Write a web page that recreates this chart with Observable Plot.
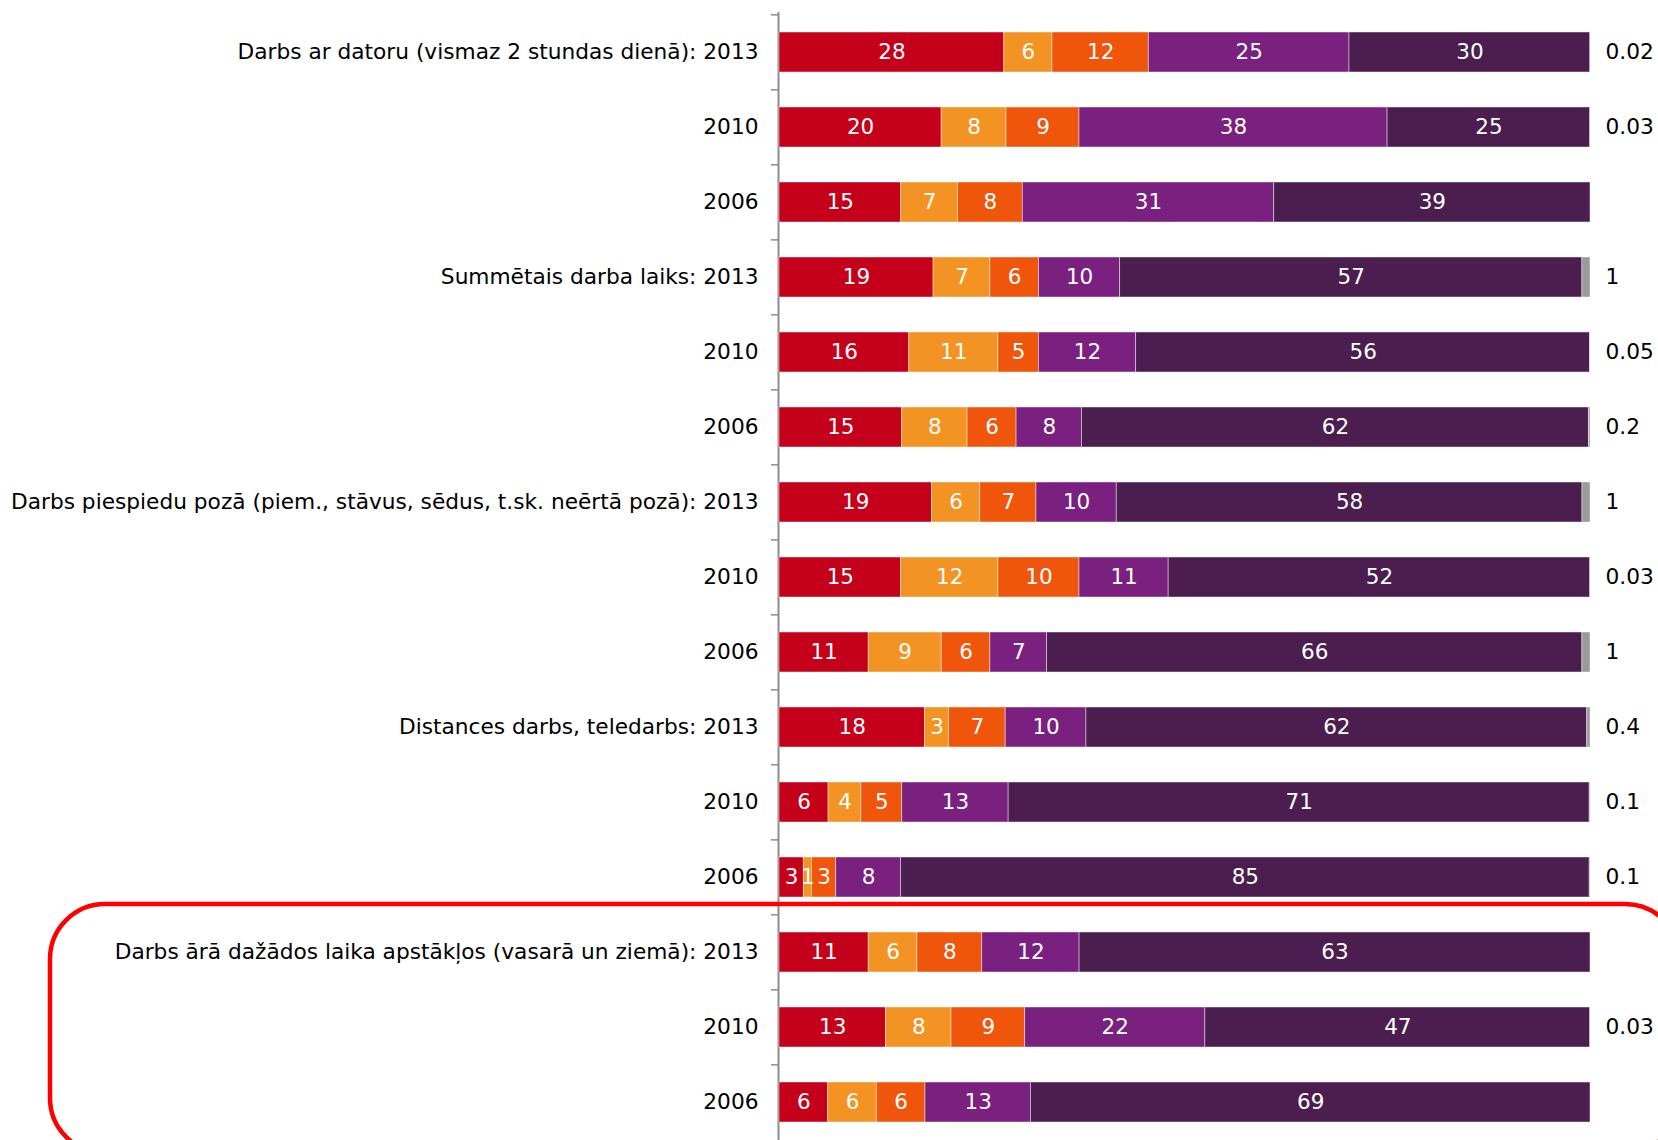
<!DOCTYPE html>
<html>
<head>
<meta charset="utf-8">
<script src="https://cdn.jsdelivr.net/npm/d3@7"></script>
<script src="https://cdn.jsdelivr.net/npm/@observablehq/plot@0.6"></script>
<style>
  body { margin: 0; background: #fff; }
  #chart svg { display: block; }
</style>
</head>
<body>
<div id="chart"></div>
<script>
// ---- data ----
const groups = [
  "Darbs ar datoru (vismaz 2 stundas dienā)",
  "Summētais darba laiks",
  "Darbs piespiedu pozā (piem., stāvus, sēdus, t.sk. neērtā pozā)",
  "Distances darbs, teledarbs",
  "Darbs ārā dažādos laika apstākļos (vasarā un ziemā)"
];
const years = ["2013", "2010", "2006"];
const categories = ["c1", "c2", "c3", "c4", "c5", "na"];
const colors = ["#c5001a", "#f39323", "#ef560b", "#7a2180", "#4b1e4f", "#9a9a9a"];

// values per row (top to bottom: group × year)
const seriesRed         = [28, 20, 15, 19, 16, 15, 19, 15, 11, 18, 6, 3, 11, 13, 6];
const seriesLightOrange = [6, 8, 7, 7, 11, 8, 6, 12, 9, 3, 4, 1, 6, 8, 6];
const seriesDarkOrange  = [12, 9, 8, 6, 5, 6, 7, 10, 6, 7, 5, 3, 8, 9, 6];
const seriesPurple      = [25, 38, 31, 10, 12, 8, 10, 11, 7, 10, 13, 8, 12, 22, 13];
const seriesDarkPurple  = [30, 25, 39, 57, 56, 62, 58, 52, 66, 62, 71, 85, 63, 47, 69];
const seriesNoAnswer    = [0.02, 0.03, null, 1, 0.05, 0.2, 1, 0.03, 1, 0.4, 0.1, 0.1, null, 0.03, null];

// ---- build table ----
const rows = groups.flatMap(g => years.map(y => g + "|" + y));
const allSeries = [seriesRed, seriesLightOrange, seriesDarkOrange, seriesPurple, seriesDarkPurple, seriesNoAnswer];
const data = rows.flatMap((r, i) =>
  allSeries.map((s, j) => ({row: r, cat: categories[j], value: s[i]})).filter(d => d.value != null)
);
const naData = data.filter(d => d.cat === "na");

const rowLabel = key => {
  const [g, y] = key.split("|");
  return y === years[0] ? `${g}: ${y}` : y;
};

// ---- layout ----
const W = 1658, H = 1140, mL = 779, mR = 68, mT = 12, mB = 0;
const step = 75.3;
const tickLen = 7 / (W - mL - mR);
const axisColor = "#8c8c8c";

const chart = Plot.plot({
  width: W,
  height: H,
  marginLeft: mL,
  marginRight: mR,
  marginTop: mT,
  marginBottom: mB,
  style: {fontFamily: "'DejaVu Sans', Verdana, sans-serif", fontSize: "21px", background: "white", color: "#000"},
  x: {domain: [0, 1], axis: null},
  y: {domain: rows, range: [mT, mT + step * rows.length], paddingInner: 0.47, paddingOuter: 0.235, label: null},
  color: {domain: categories, range: colors},
  marks: [
    Plot.ruleX([0], {stroke: axisColor, strokeWidth: 2, dx: -1}),
    Plot.ruleY(rows, {y: d => d, x1: -tickLen, x2: 0, dy: -step / 2, dx: -1, stroke: axisColor, strokeWidth: 1.5}),
    Plot.barX(data, Plot.stackX({
      x: "value", y: "row", fill: "cat", offset: "normalize",
      stroke: "#ffffff", strokeWidth: 0.8, strokeOpacity: 0.55
    })),
    Plot.text(data, Plot.stackX({
      x: "value", y: "row", z: "cat", offset: "normalize",
      text: d => d.cat === "na" ? null : String(d.value),
      fill: "white", fontSize: 21.5
    })),
    Plot.text(naData, {
      y: "row", text: d => String(d.value), frameAnchor: "right",
      dx: 15, textAnchor: "start", fill: "#000", fontSize: 21.7
    }),
    Plot.axisY({tickSize: 0, tickPadding: 21, tickFormat: rowLabel, fontSize: 21.7, fill: "#000", label: null})
  ]
});

document.getElementById("chart").appendChild(chart);

// ---- red rounded highlight frame (annotation) ----
(function () {
  const ys = chart.scale("y");
  const frameTop = ys.apply(rows[11]) + ys.bandwidth + 7;
  d3.select(chart).append("rect")
    .attr("x", 50)
    .attr("y", frameTop)
    .attr("width", 1680 - 50)
    .attr("height", 1153 - frameTop)
    .attr("rx", 55)
    .attr("ry", 55)
    .attr("fill", "none")
    .attr("stroke", "#ff0000")
    .attr("stroke-width", 4.5);
})();
</script>
</body>
</html>
